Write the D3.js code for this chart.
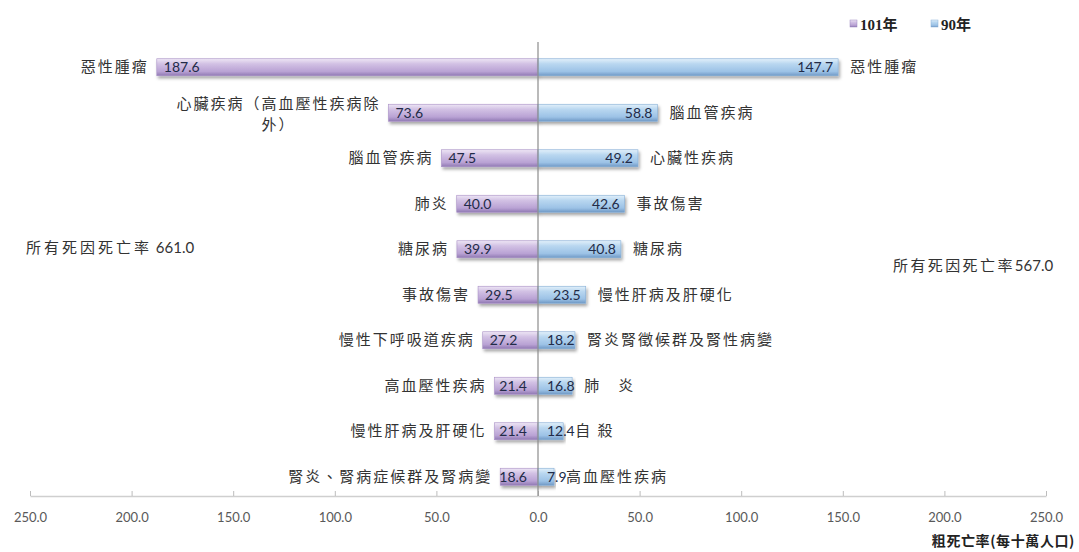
<!DOCTYPE html>
<html>
<head>
<meta charset="utf-8">
<script src="https://cdn.jsdelivr.net/npm/d3@7"></script>
<style>
  html, body { margin: 0; padding: 0; background: #fff; }
  svg { display: block; }
  .cjk { font-family: "Noto Sans CJK TC", "Noto Sans CJK SC", sans-serif; }
  .num { font-family: Lato, Carlito, "Liberation Sans", sans-serif; }
</style>
</head>
<body>
<svg id="chart" width="1079" height="552"></svg>
<script>
// ---- data ----
const leftCategories = ["惡性腫瘤", "心臟疾病（高血壓性疾病除外）", "腦血管疾病", "肺炎", "糖尿病", "事故傷害", "慢性下呼吸道疾病", "高血壓性疾病", "慢性肝病及肝硬化", "腎炎、腎病症候群及腎病變"];
const leftValues = [187.6, 73.6, 47.5, 40.0, 39.9, 29.5, 27.2, 21.4, 21.4, 18.6];
const rightCategories = ["惡性腫瘤", "腦血管疾病", "心臟性疾病", "事故傷害", "糖尿病", "慢性肝病及肝硬化", "腎炎腎徵候群及腎性病變", "肺　炎", "自 殺", "高血壓性疾病"];
const rightValues = [147.7, 58.8, 49.2, 42.6, 40.8, 23.5, 18.2, 16.8, 12.4, 7.9];
const seriesNames = ["101年", "90年"];
const totalLeftText = "所有死因死亡率";
const totalLeftValue = " 661.0";
const totalRightText = "所有死因死亡率";
const totalRightValue = "567.0";
const tickValues = [0, 50, 100, 150, 200, 250];
const axisTitle = "粗死亡率(每十萬人口)";

// ---- layout ----
const svg = d3.select("#chart");
const center = 538, xMin = 30, xMax = 1046;
const xL = d3.scaleLinear().domain([250, 0]).range([xMin, center]);
const xR = d3.scaleLinear().domain([0, 250]).range([center, xMax]);
const rows = d3.range(leftValues.length);
const y = d3.scaleBand().domain(rows).range([44.5, 499.5]);
const barH = 17;
const axisY = 496;

const defs = svg.append("defs");
function grad(id, stops) {
  const g = defs.append("linearGradient").attr("id", id)
    .attr("x1", 0).attr("y1", 0).attr("x2", 0).attr("y2", 1);
  stops.forEach(s => g.append("stop").attr("offset", s[0]).attr("stop-color", s[1]));
}
grad("gPurple", [[0, "#eee6f5"], [0.3, "#d2c1e4"], [0.75, "#b9a2d4"], [1, "#9079b3"]]);
grad("gBlue", [[0, "#e2f0fa"], [0.3, "#b9d7f0"], [0.75, "#9cc2e6"], [1, "#7099c6"]]);
const f = defs.append("filter").attr("id", "shadow").attr("x", "-5%").attr("y", "-30%").attr("width", "115%").attr("height", "190%");
f.append("feDropShadow").attr("dx", 1.5).attr("dy", 2.5).attr("stdDeviation", 1.5)
  .attr("flood-color", "#000").attr("flood-opacity", 0.35);

// ---- axes ----
const axL = d3.axisBottom(xL).tickValues(tickValues.slice(1)).tickFormat(d3.format(".1f"))
  .tickSizeInner(-5).tickSizeOuter(0).tickPadding(17);
const axR = d3.axisBottom(xR).tickValues(tickValues).tickFormat(d3.format(".1f"))
  .tickSizeInner(-5).tickSizeOuter(0).tickPadding(17);
[axL, axR].forEach(ax => {
  const g = svg.append("g").attr("transform", `translate(0,${axisY})`).call(ax);
  g.selectAll("path.domain").attr("stroke", "#cfcfcf").attr("stroke-width", 1.3);
  g.selectAll(".tick line").attr("stroke", "#bdbdbd");
  g.selectAll(".tick text").attr("class", "num").attr("font-size", 13).attr("fill", "#595959");
});

// ---- bars ----
const gBars = svg.append("g");
gBars.selectAll("rect.l").data(rows).join("rect").attr("class", "l")
  .attr("x", i => xL(leftValues[i])).attr("y", i => y(i) + y.bandwidth() / 2 - barH / 2)
  .attr("width", i => center - xL(leftValues[i])).attr("height", barH)
  .attr("fill", "url(#gPurple)").attr("stroke", "#a990c6").attr("stroke-width", 0.6)
  .attr("filter", "url(#shadow)");
gBars.selectAll("rect.r").data(rows).join("rect").attr("class", "r")
  .attr("x", center).attr("y", i => y(i) + y.bandwidth() / 2 - barH / 2)
  .attr("width", i => xR(rightValues[i]) - center).attr("height", barH)
  .attr("fill", "url(#gBlue)").attr("stroke", "#86aed6").attr("stroke-width", 0.6)
  .attr("filter", "url(#shadow)");

// center line
svg.append("line").attr("x1", center).attr("x2", center).attr("y1", 42).attr("y2", axisY)
  .attr("stroke", "#8c8c8c").attr("stroke-width", 1.2);

// ---- value labels ----
const fmt = d3.format(".1f");
const valG = svg.append("g");
rows.forEach(i => {
  const cy = y(i) + y.bandwidth() / 2;
  const tl = valG.append("text").attr("class", "num").attr("font-size", 14).attr("fill", "#222b48")
    .attr("y", cy + 5).text(fmt(leftValues[i]));
  const wl = tl.node().getComputedTextLength();
  tl.attr("x", Math.min(xL(leftValues[i]) + 7, center - 11 - wl));
  const tr = valG.append("text").attr("class", "num").attr("font-size", 14).attr("fill", "#222b48")
    .attr("y", cy + 5).text(fmt(rightValues[i]));
  const wr = tr.node().getComputedTextLength();
  const endR = Math.max(xR(rightValues[i]) - 5, center + 9 + wr);
  tr.attr("x", endR - wr);
});

// ---- category labels ----
const labG = svg.append("g").attr("class", "cjk").attr("font-size", 15).attr("fill", "#333");
const ls = 2;
rows.forEach(i => {
  const cy = y(i) + y.bandwidth() / 2;
  const endX = xL(leftValues[i]) - 10;
  const name = leftCategories[i];
  if (name.length > 12) {
    const l1 = name.slice(0, 12), l2 = name.slice(12);
    const t1 = labG.append("text").attr("x", endX + ls).attr("y", cy - 4)
      .attr("text-anchor", "end").attr("letter-spacing", ls).text(l1);
    const w1 = t1.node().getComputedTextLength();
    labG.append("text").attr("x", endX - (w1 - ls) / 2 + ls / 2).attr("y", cy + 17)
      .attr("text-anchor", "middle").attr("letter-spacing", ls).text(l2);
  } else {
    labG.append("text").attr("x", endX + ls).attr("y", cy + 5)
      .attr("text-anchor", "end").attr("letter-spacing", ls).text(name);
  }
  const startX = Math.max(xR(rightValues[i]) + 12, center + 28);
  labG.append("text").attr("x", startX).attr("y", cy + 5)
    .attr("letter-spacing", ls).text(rightCategories[i]);
});

// ---- totals ----
function total(x, yy, txt, val, spacing) {
  const t = svg.append("text").attr("x", x).attr("y", yy).attr("fill", "#333");
  t.append("tspan").attr("class", "cjk").attr("font-size", 15).attr("letter-spacing", spacing).text(txt);
  t.append("tspan").attr("class", "num").attr("font-size", 15).attr("letter-spacing", 0).text(val);
}
total(26, 253, totalLeftText, totalLeftValue, 3);
total(893, 271, totalRightText, totalRightValue, 2.4);

// ---- axis title ----
svg.append("text").attr("class", "cjk").attr("font-size", 14).attr("font-weight", "bold").attr("fill", "#222")
  .attr("x", 1075).attr("y", 546).attr("text-anchor", "end").attr("letter-spacing", 0.6).text(axisTitle);

// ---- legend ----
const leg = svg.append("g");
const legX = [850, 931];
const legFill = ["url(#gPurple)", "url(#gBlue)"];
seriesNames.forEach((n, k) => {
  leg.append("rect").attr("x", legX[k]).attr("y", 20).attr("width", 7).attr("height", 7)
    .attr("fill", legFill[k]).attr("stroke", k ? "#86aed6" : "#9a86c0").attr("stroke-width", 0.5);
  leg.append("text").attr("x", legX[k] + 10).attr("y", 30)
    .attr("font-family", "'Liberation Serif', 'Noto Sans CJK TC', serif").attr("font-weight", "bold")
    .attr("font-size", 15).attr("fill", "#222").text(n);
});
</script>
</body>
</html>
